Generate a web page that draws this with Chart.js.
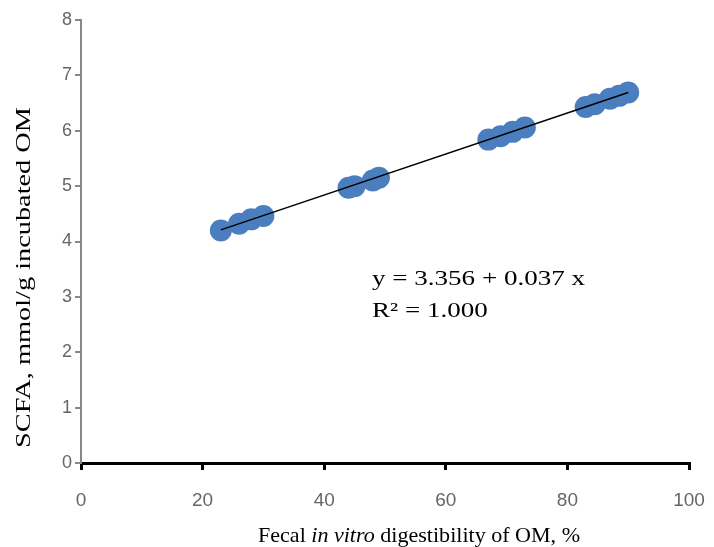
<!DOCTYPE html>
<html>
<head>
<meta charset="utf-8">
<script src="https://cdn.jsdelivr.net/npm/chart.js@4.4.0/dist/chart.umd.min.js"></script>
<style>
  html, body { margin: 0; padding: 0; background: #fff; }
  #wrap { width: 714px; height: 547px; }
</style>
</head>
<body>
<div id="wrap"><canvas id="myChart"></canvas></div>
<script>
// data
let digestX = [23, 26, 28, 30, 44, 45, 48, 49, 67, 69, 71, 73, 83, 84.5, 87, 88.5, 90];
let scfaY = [4.20, 4.32, 4.40, 4.46, 4.97, 5.00, 5.10, 5.15, 5.84, 5.90, 5.98, 6.06, 6.43, 6.48, 6.58, 6.63, 6.69];
let trendX = [23, 90];
let trendY = [4.21, 6.69];
let eqLines = ["y = 3.356 + 0.037 x", "R² = 1.000"];
let xTitle = [["Fecal ", false], ["in vitro", true], [" digestibility of OM, %", false]];
let yTitle = "SCFA, mmol/g incubated OM";

let pts = digestX.map((x, i) => ({x: x, y: scfaY[i]}));
let trend = trendX.map((x, i) => ({x: x, y: trendY[i]}));

const serif = '"Liberation Serif", "Times New Roman", serif';

// titles and equation drawn by hand (italic part, stretched like the picture)
const textBits = {
  id: 'textBits',
  afterDraw(chart) {
    const ctx = chart.ctx;
    ctx.save();
    ctx.fillStyle = '#000';
    ctx.textBaseline = 'alphabetic';

    // equation
    ctx.font = '21px ' + serif;
    let w0 = ctx.measureText(eqLines[0]).width;
    let sx = 213 / w0;
    ctx.save();
    ctx.translate(372, 285);
    ctx.scale(sx, 1);
    ctx.fillText(eqLines[0], 0, 0);
    ctx.fillText(eqLines[1], 0, 32);
    ctx.restore();

    // x title
    let total = 0;
    xTitle.forEach(p => {
      ctx.font = (p[1] ? 'italic ' : '') + '22px ' + serif;
      total += ctx.measureText(p[0]).width;
    });
    let k = 322 / total;
    ctx.save();
    ctx.translate(258, 542);
    ctx.scale(k, 1);
    let cx = 0;
    xTitle.forEach(p => {
      ctx.font = (p[1] ? 'italic ' : '') + '22px ' + serif;
      ctx.fillText(p[0], cx, 0);
      cx += ctx.measureText(p[0]).width;
    });
    ctx.restore();

    // y title
    ctx.font = '22px ' + serif;
    let wy = ctx.measureText(yTitle).width;
    ctx.save();
    ctx.translate(30, 448);
    ctx.rotate(-Math.PI / 2);
    ctx.scale(341 / wy, 1);
    ctx.fillText(yTitle, 0, 0);
    ctx.restore();

    ctx.restore();
  }
};

new Chart("myChart", {
  type: "scatter",
  data: {
    datasets: [
      {
        data: pts,
        backgroundColor: "#4a7ebf",
        borderColor: "#4a7ebf",
        borderWidth: 0,
        pointRadius: 11,
        pointHoverRadius: 11,
        order: 2
      },
      {
        type: "line",
        data: trend,
        borderColor: "#000",
        borderWidth: 1.5,
        pointRadius: 0,
        fill: false,
        order: 1
      }
    ]
  },
  options: {
    responsive: true,
    maintainAspectRatio: false,
    animation: false,
    layout: { padding: { top: 20, right: 25, left: 0, bottom: 0 } },
    plugins: {
      legend: { display: false },
      tooltip: { enabled: false }
    },
    scales: {
      x: {
        type: "linear",
        min: 0,
        max: 100,
        ticks: {
          stepSize: 20,
          color: "#666",
          padding: 19,
          font: { family: "Liberation Sans", size: 19 }
        },
        grid: { drawOnChartArea: false, drawTicks: true, tickLength: 7, color: "#000", lineWidth: 3 },
        border: { color: "#000", width: 3 },
        afterFit(scale) {
          scale.height = 84;
          scale.paddingRight = 0;
          scale.paddingLeft = 0;
        }
      },
      y: {
        min: 0,
        max: 8,
        ticks: {
          stepSize: 1,
          color: "#666",
          padding: 3,
          font: { family: "Liberation Sans", size: 18 }
        },
        grid: { drawOnChartArea: false, drawTicks: true, tickLength: 6, color: "#888", lineWidth: 2 },
        border: { color: "#888", width: 2 },
        afterFit(scale) {
          scale.width = 81;
          scale.paddingTop = 0;
          scale.paddingBottom = 0;
        }
      }
    }
  },
  plugins: [textBits]
});
</script>
</body>
</html>
